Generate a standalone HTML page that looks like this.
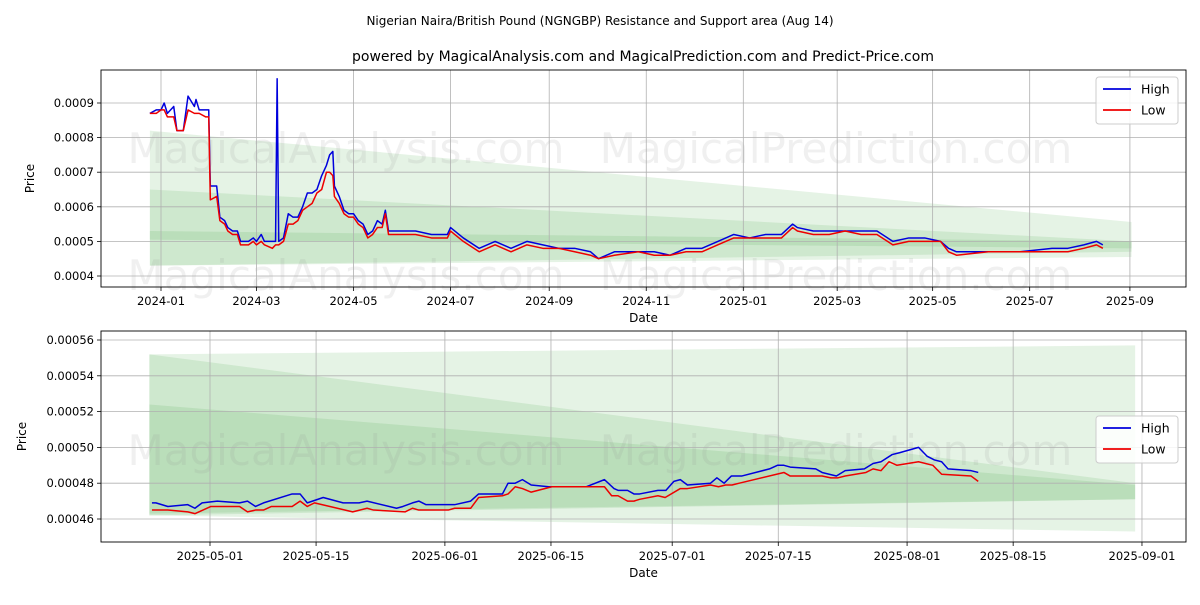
<!DOCTYPE html>
<html><head><meta charset="utf-8"><style>
body{margin:0;background:#fff;font-family:"Liberation Sans","DejaVu Sans",sans-serif;}
svg text{font-family:"DejaVu Sans","Liberation Sans",sans-serif;}
</style></head><body>
<svg id="c" width="1200" height="600" xmlns="http://www.w3.org/2000/svg">
<text x="600" y="25" font-size="12" text-anchor="middle">Nigerian Naira/British Pound (NGNGBP) Resistance and Support area (Aug 14)</text>
<text x="643" y="61" font-size="14" text-anchor="middle">powered by MagicalAnalysis.com and MagicalPrediction.com and Predict-Price.com</text>
</svg>
<script>
// ---- top chart data (days since 2024-01-01) ----
const topDays=[-7,-3,0,2,4,8,10,14,17,21,22,24,28,30,31,35,37,40,42,45,48,50,55,58,60,63,65,70,72,73,74,77,80,83,86,89,92,95,98,101,104,106,108,109,112,115,118,121,124,127,130,133,136,139,141,143,150,160,170,180,182,190,200,210,220,230,240,250,260,270,275,285,300,310,320,330,340,350,360,370,380,390,397,400,410,420,430,440,450,460,470,480,490,495,500,520,540,560,570,580,588,592];
const topHigh=[0.00087,0.00088,0.00088,0.0009,0.00087,0.00089,0.00082,0.00082,0.00092,0.00089,0.00091,0.00088,0.00088,0.00088,0.00066,0.00066,0.00057,0.00056,0.00054,0.00053,0.00053,0.0005,0.0005,0.00051,0.0005,0.00052,0.0005,0.0005,0.0005,0.00097,0.0005,0.00051,0.00058,0.00057,0.00057,0.0006,0.00064,0.00064,0.00065,0.00069,0.00072,0.00075,0.00076,0.00066,0.00063,0.00059,0.00058,0.00058,0.00056,0.00055,0.00052,0.00053,0.00056,0.00055,0.00059,0.00053,0.00053,0.00053,0.00052,0.00052,0.00054,0.00051,0.00048,0.0005,0.00048,0.0005,0.00049,0.00048,0.00048,0.00047,0.00045,0.00047,0.00047,0.00047,0.00046,0.00048,0.00048,0.0005,0.00052,0.00051,0.00052,0.00052,0.00055,0.00054,0.00053,0.00053,0.00053,0.00053,0.00053,0.0005,0.00051,0.00051,0.0005,0.00048,0.00047,0.00047,0.00047,0.00048,0.00048,0.00049,0.0005,0.00049];
const topLow=[0.00087,0.00087,0.00088,0.00088,0.00086,0.00086,0.00082,0.00082,0.00088,0.00087,0.00087,0.00087,0.00086,0.00086,0.00062,0.00063,0.00056,0.00055,0.00053,0.00052,0.00052,0.00049,0.00049,0.0005,0.00049,0.0005,0.00049,0.00048,0.00049,0.00049,0.00049,0.0005,0.00055,0.00055,0.00056,0.00059,0.0006,0.00061,0.00064,0.00065,0.0007,0.0007,0.00069,0.00063,0.00061,0.00058,0.00057,0.00057,0.00055,0.00054,0.00051,0.00052,0.00054,0.00054,0.00058,0.00052,0.00052,0.00052,0.00051,0.00051,0.00053,0.0005,0.00047,0.00049,0.00047,0.00049,0.00048,0.00048,0.00047,0.00046,0.00045,0.00046,0.00047,0.00046,0.00046,0.00047,0.00047,0.00049,0.00051,0.00051,0.00051,0.00051,0.00054,0.00053,0.00052,0.00052,0.00053,0.00052,0.00052,0.00049,0.0005,0.0005,0.0005,0.00047,0.00046,0.00047,0.00047,0.00047,0.00047,0.00048,0.00049,0.00048];
const topXTicks=["2024-01","2024-03","2024-05","2024-07","2024-09","2024-11","2025-01","2025-03","2025-05","2025-07","2025-09"];
const topXTickDays=[0,60,121,182,244,305,366,425,485,546,609];
const topYTicks=[0.0004,0.0005,0.0006,0.0007,0.0008,0.0009];
// ---- bottom chart data (days since 2025-05-01) ----
const botDays=[-7.66,-7.14,-5.56,-2.93,-1.99,-1.04,0.96,3.9,4.95,6.01,7.06,10.84,11.89,12.84,14.94,17.57,19.68,20.73,24.62,25.46,26.72,27.56,28.51,32.29,34.4,35.45,38.6,39.34,40.28,41.23,42.39,44.7,49.64,52.06,53.32,53.85,55.11,55.95,56.7,59.12,60.17,61.22,62.07,63.01,66.06,66.9,67.85,68.8,70.16,73.84,74.89,75.74,76.58,79.94,80.78,82.67,83.83,86.36,87.51,88.56,90.03,90.99,93.51,94.66,95.61,96.56,97.4,100.45,101.39];
const botHigh=[0.000469,0.000469,0.000467,0.000468,0.000466,0.000469,0.00047,0.000469,0.00047,0.000467,0.000469,0.000474,0.000474,0.000469,0.000472,0.000469,0.000469,0.00047,0.000466,0.000467,0.000469,0.00047,0.000468,0.000468,0.00047,0.000474,0.000474,0.00048,0.00048,0.000482,0.000479,0.000478,0.000478,0.000482,0.000477,0.000476,0.000476,0.000474,0.000474,0.000476,0.000476,0.000481,0.000482,0.000479,0.00048,0.000483,0.00048,0.000484,0.000484,0.000488,0.00049,0.00049,0.000489,0.000488,0.000486,0.000484,0.000487,0.000488,0.000491,0.000492,0.000496,0.000497,0.0005,0.000495,0.000493,0.000492,0.000488,0.000487,0.000486];
const botLowDays=[-7.66,-5.56,-2.93,-1.99,0.12,3.9,4.95,6.01,7.06,8.11,10.84,11.89,12.84,13.79,18.83,20.73,21.57,25.77,26.72,27.56,31.45,32.29,34.4,35.45,38.6,39.34,40.28,41.23,42.39,45.12,52.06,53.01,53.85,55.11,55.95,56.7,59.12,60.07,62.07,63.01,66.06,67.11,68.06,68.9,69.85,75.74,76.58,80.78,81.94,82.88,83.83,86.57,87.51,88.56,89.61,90.67,93.51,95.4,96.56,100.45,101.39];
const botLow=[0.000465,0.000465,0.000464,0.000463,0.000467,0.000467,0.000464,0.000465,0.000465,0.000467,0.000467,0.00047,0.000467,0.000469,0.000464,0.000466,0.000465,0.000464,0.000466,0.000465,0.000465,0.000466,0.000466,0.000472,0.000473,0.000474,0.000478,0.000477,0.000475,0.000478,0.000478,0.000473,0.000473,0.00047,0.00047,0.000471,0.000473,0.000472,0.000477,0.000477,0.000479,0.000478,0.000479,0.000479,0.00048,0.000486,0.000484,0.000484,0.000483,0.000483,0.000484,0.000486,0.000488,0.000487,0.000492,0.00049,0.000492,0.00049,0.000485,0.000484,0.000481];
const botXTicks=["2025-05-01","2025-05-15","2025-06-01","2025-06-15","2025-07-01","2025-07-15","2025-08-01","2025-08-15","2025-09-01"];
const botXTickDays=[0,14,31,45,61,75,92,106,123];
const botYTicks=[0.00046,0.00048,0.0005,0.00052,0.00054,0.00056];

const svg=document.getElementById('c');
const NS='http://www.w3.org/2000/svg';
function mk(tag,attrs,parent){const e=document.createElementNS(NS,tag);for(const k in attrs)e.setAttribute(k,attrs[k]);(parent||svg).appendChild(e);return e;}

function panel(cfg){
  const g=mk('g',{});
  
  
  const X=d=>cfg.x0+(d-cfg.d0)*cfg.pxd;
  const Y=v=>cfg.yb-(v-cfg.v0)*cfg.pxv;
  cfg.bands.forEach((b,i)=>{
    const xl=X(cfg.bandStart),xr=X(cfg.bandEnd);
    const p=mk('polygon',{points:`${xl},${Y(b[0])} ${xr},${Y(b[1])} ${xr},${Y(b[3])} ${xl},${Y(b[2])}`,fill:'#2ca02c','fill-opacity':b[4]},g);
    
    
  });
  cfg.wm.forEach(w=>{const t=mk('text',{x:w[0],y:w[1],'font-size':42,'text-anchor':'middle',fill:'#888','fill-opacity':0.13},g);t.textContent=w[2];
    });
  cfg.xtd.forEach((d,i)=>{const x=X(d);
    mk('line',{x1:x,x2:x,y1:cfg.top,y2:cfg.bot,stroke:'#b0b0b0','stroke-width':0.8},g);
    mk('line',{x1:x,x2:x,y1:cfg.bot,y2:cfg.bot+4,stroke:'#000','stroke-width':0.8},g);
    const t=mk('text',{x:x,y:cfg.bot+18,'font-size':11.5,'text-anchor':'middle'},g);t.textContent=cfg.xt[i];
    });
  cfg.yt.forEach(v=>{const y=Y(v);
    mk('line',{x1:cfg.left,x2:cfg.right,y1:y,y2:y,stroke:'#b0b0b0','stroke-width':0.8},g);
    mk('line',{x1:cfg.left-4,x2:cfg.left,y1:y,y2:y,stroke:'#000','stroke-width':0.8},g);
    const t=mk('text',{x:cfg.left-7,y:y+4,'font-size':11.5,'text-anchor':'end'},g);t.textContent=v.toFixed(cfg.dec);
    });
  const line=(ds,vs,col,nm)=>{const p=mk('polyline',{points:ds.map((d,i)=>X(d)+','+Y(vs[i])).join(' '),fill:'none',stroke:col,'stroke-width':1.5,'stroke-linejoin':'round'},g);
    };
  line(cfg.hd,cfg.hv,'#0000dd','high-line');
  line(cfg.ld,cfg.lv,'#ee0000','low-line');
  const fr=mk('rect',{x:cfg.left,y:cfg.top,width:cfg.right-cfg.left,height:cfg.bot-cfg.top,fill:'none',stroke:'#000','stroke-width':0.9},g);
  
  const xl=mk('text',{x:(cfg.left+cfg.right)/2,y:cfg.bot+35,'font-size':12,'text-anchor':'middle'},g);xl.textContent='Date';
  
  const cy=(cfg.top+cfg.bot)/2;
  const yl=mk('text',{x:cfg.ylx,y:cy,'font-size':12,'text-anchor':'middle',transform:`rotate(-90 ${cfg.ylx} ${cy})`},g);yl.textContent='Price';
  
  const lg=mk('g',{},g);
  mk('rect',{x:1096,y:cfg.lgy,width:82,height:47,rx:3,fill:'#fff','fill-opacity':0.85,stroke:'#ccc'},lg);
  [['High','#0000dd'],['Low','#ee0000']].forEach((e,i)=>{const y=cfg.lgy+12+i*21;
    const le=mk('g',{},lg);
    mk('line',{x1:1103,x2:1131,y1:y,y2:y,stroke:e[1],'stroke-width':1.8},le);
    const t=mk('text',{x:1141,y:y+4.5,'font-size':12.5},le);t.textContent=e[0];});
}
panel({name:'top-panel',left:101,right:1186,top:70,bot:287,x0:161,d0:0,pxd:1.591,yb:276,v0:0.0004,pxv:346000,dec:4,
  xt:topXTicks,xtd:topXTickDays,yt:topYTicks,hd:topDays,hv:topHigh,ld:topDays,lv:topLow,ylx:34,lgy:77,
  bandStart:-7,bandEnd:610,
  bands:[[0.00082,0.000556,0.00043,0.000455,0.12],[0.00065,0.0005,0.00043,0.00047,0.12],[0.00053,0.0005,0.000505,0.00048,0.12]],
  wm:[[346,163,'MagicalAnalysis.com'],[836,163,'MagicalPrediction.com'],[346,290,'MagicalAnalysis.com'],[836,290,'MagicalPrediction.com']]});
panel({name:'bottom-panel',left:101,right:1186,top:331,bot:542,x0:210,d0:0,pxd:7.577,yb:519,v0:0.00046,pxv:1790000,dec:5,
  xt:botXTicks,xtd:botXTickDays,yt:botYTicks,hd:botDays,hv:botHigh,ld:botLowDays,lv:botLow,ylx:26,lgy:416,
  bandStart:-8,bandEnd:122.1,
  bands:[[0.000552,0.000557,0.000462,0.000453,0.12],[0.000552,0.00048,0.000462,0.000471,0.12],[0.000524,0.000479,0.000463,0.000471,0.12]],
  wm:[[346,465,'MagicalAnalysis.com'],[836,465,'MagicalPrediction.com']]});
</script>
</body></html>
